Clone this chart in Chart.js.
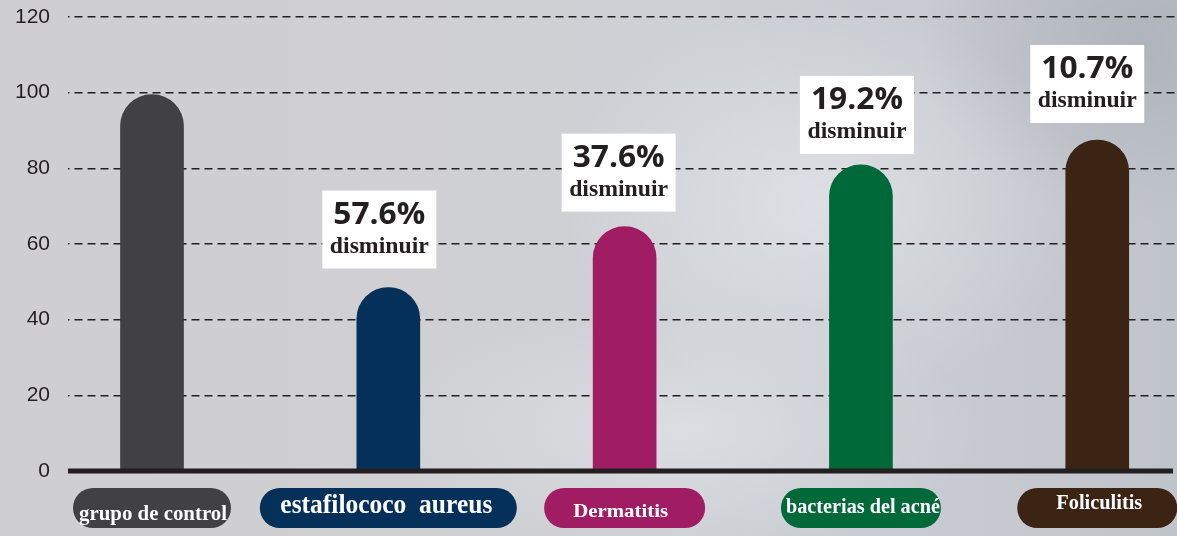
<!DOCTYPE html>
<html>
<head>
<meta charset="utf-8">
<script src="https://cdn.jsdelivr.net/npm/chart.js@4/dist/chart.umd.min.js"></script>
<style>
  html, body { margin: 0; padding: 0; }
  body {
    width: 1177px; height: 536px; overflow: hidden;
    background:
      radial-gradient(ellipse 260px 200px at 70% 38%, rgba(236,238,242,0.55), rgba(236,238,242,0) 100%),
      radial-gradient(ellipse 300px 120px at 58% 80%, rgba(232,234,238,0.5), rgba(232,234,238,0) 100%),
      radial-gradient(ellipse 220px 180px at 97% 8%, rgba(160,166,176,0.55), rgba(160,166,176,0) 100%),
      linear-gradient(90deg, #cfcfd1 0%, #d0d0d3 35%, #cdd0d5 60%, #c6c9cf 85%, #c0c4cb 100%);
  }
  #chart { display: block; }
</style>
</head>
<body>
<canvas id="chart" width="1177" height="536"></canvas>
<script>
// data
const categories = ["grupo de control", "estafilococo  aureus", "Dermatitis", "bacterias del acné", "Foliculitis"];
const values = [99.5, 48.5, 64.6, 80.9, 87.5];
const decreases = ["", "57.6%", "37.6%", "19.2%", "10.7%"];
const decreaseWord = "disminuir";
const yTicks = [0, 20, 40, 60, 80, 100, 120];

const barColors = ["#414042", "#05305a", "#a11d63", "#00693a", "#3c2415"];
const ink = "#231f20";

// label boxes above bars: dx from bar centre, gap above bar top
const boxShift = [null, [-9, 19], [-6, 15], [-4, 11], [-10, 17]];
// pills under the axis: width, font size, baseline, text width, text centre dx
const pillStyle = [
  {w: 158, size: 20, base: 520, tw: 148, dx: 1},
  {w: 257, size: 27, base: 513, tw: 212, dx: -2},
  {w: 161, size: 19, base: 517, tw: 95, dx: -4},
  {w: 160, size: 21, base: 513, tw: 154, dx: 2},
  {w: 160, size: 21, base: 509, tw: 86, dx: 2},
];

function fitText(ctx, text, cx, y, width) {
  const m = ctx.measureText(text).width;
  ctx.save();
  ctx.translate(cx, y);
  ctx.scale(width / m, 1);
  ctx.textAlign = "center";
  ctx.fillText(text, 0, 0);
  ctx.restore();
}

const decor = {
  id: "decor",
  afterDatasetsDraw(chart) {
    const ctx = chart.ctx;
    const area = chart.chartArea;
    const y0 = chart.scales.y.getPixelForValue(0);
    const meta = chart.getDatasetMeta(0);

    // thick zero line
    ctx.save();
    ctx.strokeStyle = ink;
    ctx.lineWidth = 5;
    ctx.beginPath();
    ctx.moveTo(area.left, y0);
    ctx.lineTo(area.right - 2, y0);
    ctx.stroke();

    meta.data.forEach((bar, i) => {
      // white boxes with the decrease
      if (decreases[i]) {
        const [dx, gap] = boxShift[i];
        const w = 114, h = 78;
        const cx = bar.x + dx;
        const top = bar.y - gap - h;
        ctx.fillStyle = "#ffffff";
        ctx.fillRect(cx - w / 2, top, w, h);
        ctx.fillStyle = ink;
        ctx.textBaseline = "alphabetic";
        ctx.font = "bold 31px 'Open Sans'";
        fitText(ctx, decreases[i], cx, top + 33, 92);
        ctx.font = "bold 24px 'Liberation Serif'";
        fitText(ctx, decreaseWord, cx, top + 62, 99);
      }

      // pills under the axis
      const p = pillStyle[i];
      const px = bar.x - p.w / 2;
      ctx.fillStyle = barColors[i];
      ctx.beginPath();
      ctx.roundRect(px, 488, p.w, 40, 20);
      ctx.fill();
      ctx.fillStyle = "#ffffff";
      ctx.font = "bold " + p.size + "px 'Liberation Serif'";
      fitText(ctx, categories[i], bar.x + p.dx, p.base, p.tw);
    });
    ctx.restore();
  },
};

const ctx = document.getElementById("chart").getContext("2d");
const chart = new Chart(ctx, {
  type: "bar",
  data: {
    datasets: [{
      data: values.map((v, i) => ({x: i, y: v})),
      backgroundColor: barColors,
      barThickness: 63,
      borderRadius: 40,
      borderSkipped: "start",
    }],
  },
  options: {
    responsive: false,
    animation: false,
    layout: {padding: {top: 17, right: 2, bottom: 65, left: 0}},
    plugins: {legend: {display: false}, tooltip: {enabled: false}},
    scales: {
      x: {
        type: "linear",
        display: false,
        offset: false,
        min: -0.3555,
        max: 4.329,
      },
      y: {
        min: 0,
        max: 120,
        afterBuildTicks: (scale) => {
          scale.ticks = yTicks.map((v) => ({value: v}));
        },
        afterFit: (scale) => {
          scale.width = 68;
        },
        ticks: {
          color: ink,
          padding: 0,
          font: {family: "'Liberation Sans', Arial", size: 21},
        },
        grid: {
          drawTicks: true,
          tickLength: 18,
          tickColor: "rgba(0,0,0,0)",
          lineWidth: 1.5,
          color: (c) => (c.tick && c.tick.value === 0 ? "rgba(0,0,0,0)" : ink),
        },
        border: {display: false, dash: [8, 5], dashOffset: 6.5},
      },
    },
  },
  plugins: [decor],
});
</script>
</body>
</html>
